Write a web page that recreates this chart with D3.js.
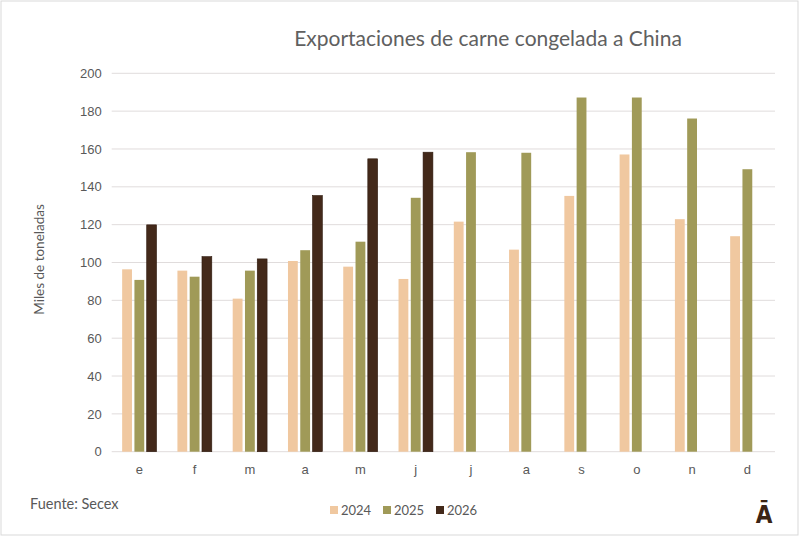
<!DOCTYPE html>
<html>
<head>
<meta charset="utf-8">
<script src="https://cdn.jsdelivr.net/npm/d3@7"></script>
<style>
  body { margin: 0; background: #fff; }
  svg { display: block; font-family: Lato, "Open Sans", sans-serif; }
</style>
</head>
<body>
<div id="chart"></div>
<script>
const months = ['e', 'f', 'm', 'a', 'm', 'j', 'j', 'a', 's', 'o', 'n', 'd'];
const series = ['2024', '2025', '2026'];
const values2024 = [96.4, 95.7, 80.9, 100.8, 97.8, 91.3, 121.6, 106.8, 135.2, 157.1, 122.9, 113.9];
const values2025 = [90.8, 92.5, 95.7, 106.5, 111.0, 134.2, 158.3, 158.0, 187.2, 187.2, 176.1, 149.3];
const values2026 = [119.9, 103.1, 101.9, 135.4, 154.8, 158.3];
const yTicks = [0, 20, 40, 60, 80, 100, 120, 140, 160, 180, 200];
const colors = ['#f0c8a0', '#a09a58', '#43291a'];

const W = 800, H = 537;
const plot = { left: 111.7, right: 775, top: 73.3, bottom: 451.7 };

const svg = d3.select('#chart').append('svg')
    .attr('width', W)
    .attr('height', H);

// frame
svg.append('rect')
    .attr('x', 1).attr('y', 1)
    .attr('width', W - 3).attr('height', H - 3)
    .attr('fill', '#fff')
    .attr('stroke', '#d9d9d9');

// month slots are indexed so repeated letters stay distinct
const x0 = d3.scaleBand()
    .domain(d3.range(months.length))
    .range([plot.left, plot.right])
    .paddingInner(0.378)
    .paddingOuter(0.189);

const x1 = d3.scaleBand()
    .domain(series)
    .range([0, x0.bandwidth()])
    .paddingInner(0.2);

const y = d3.scaleLinear()
    .domain([0, 200])
    .range([plot.bottom, plot.top]);

// gridlines
svg.append('g')
    .selectAll('line')
    .data(yTicks)
    .join('line')
    .attr('x1', plot.left)
    .attr('x2', plot.right)
    .attr('y1', d => y(d))
    .attr('y2', d => y(d))
    .attr('stroke', '#e0dcdc')
    .attr('stroke-width', 1);

// y axis labels
const yAxis = svg.append('g')
    .attr('transform', `translate(${plot.left - 10},0)`)
    .call(d3.axisLeft(y).tickValues(yTicks).tickSize(0).tickPadding(0));
yAxis.select('.domain').remove();
yAxis.selectAll('text')
    .attr('fill', '#595959')
    .style('font-size', '13px');

// x axis labels
const xAxis = svg.append('g')
    .attr('transform', `translate(0,${plot.bottom})`)
    .call(d3.axisBottom(x0).tickFormat(i => months[i]).tickSize(0).tickPadding(13));
xAxis.select('.domain').remove();
xAxis.selectAll('text')
    .attr('fill', '#595959')
    .style('font-size', '13px');

// bars
const seriesData = [values2024, values2025, values2026];
const groups = svg.append('g')
    .selectAll('g')
    .data(series)
    .join('g')
    .attr('fill', (d, i) => colors[i]);

groups.selectAll('rect')
    .data((s, i) => seriesData[i].map((v, m) => ({ s, m, v })))
    .join('rect')
    .attr('x', d => x0(d.m) + x1(d.s))
    .attr('width', x1.bandwidth())
    .attr('y', d => y(d.v))
    .attr('height', d => y(0) - y(d.v))
    .attr('stroke', (d) => d.s === '2026' ? '#2e1a0e' : 'none')
    .attr('stroke-width', 0.6);

// title
svg.append('text')
    .attr('x', 488)
    .attr('y', 46)
    .attr('text-anchor', 'middle')
    .attr('fill', '#606060')
    .style('font-size', '21px')
    .text('Exportaciones de carne congelada a China');

// y title
svg.append('text')
    .attr('transform', `translate(44,${(plot.top + plot.bottom) / 2 - 3}) rotate(-90)`)
    .attr('text-anchor', 'middle')
    .attr('fill', '#595959')
    .style('font-size', '13.5px')
    .text('Miles de toneladas');

// source
svg.append('text')
    .attr('x', 30)
    .attr('y', 509)
    .attr('fill', '#595959')
    .style('font-size', '14.5px')
    .text('Fuente: Secex');

// legend
const legend = svg.append('g')
    .attr('transform', 'translate(330,514)');
const item = legend.selectAll('g')
    .data(series)
    .join('g')
    .attr('transform', (d, i) => `translate(${i * 53},0)`);
item.append('rect')
    .attr('x', 0)
    .attr('y', -8)
    .attr('width', 8)
    .attr('height', 8)
    .attr('fill', (d, i) => colors[i]);
item.append('text')
    .attr('x', 11)
    .attr('y', 0)
    .attr('dy', '0.1em')
    .attr('fill', '#595959')
    .style('font-size', '13px')
    .text(d => d);

// logo
svg.append('text')
    .attr('x', 764)
    .attr('y', 523)
    .attr('text-anchor', 'middle')
    .attr('fill', '#3b2414')
    .style('font-size', '24px')
    .style('font-weight', 'bold')
    .style('font-family', '"DejaVu Sans Condensed", "DejaVu Sans", sans-serif')
    .text('Ā');
</script>
</body>
</html>
